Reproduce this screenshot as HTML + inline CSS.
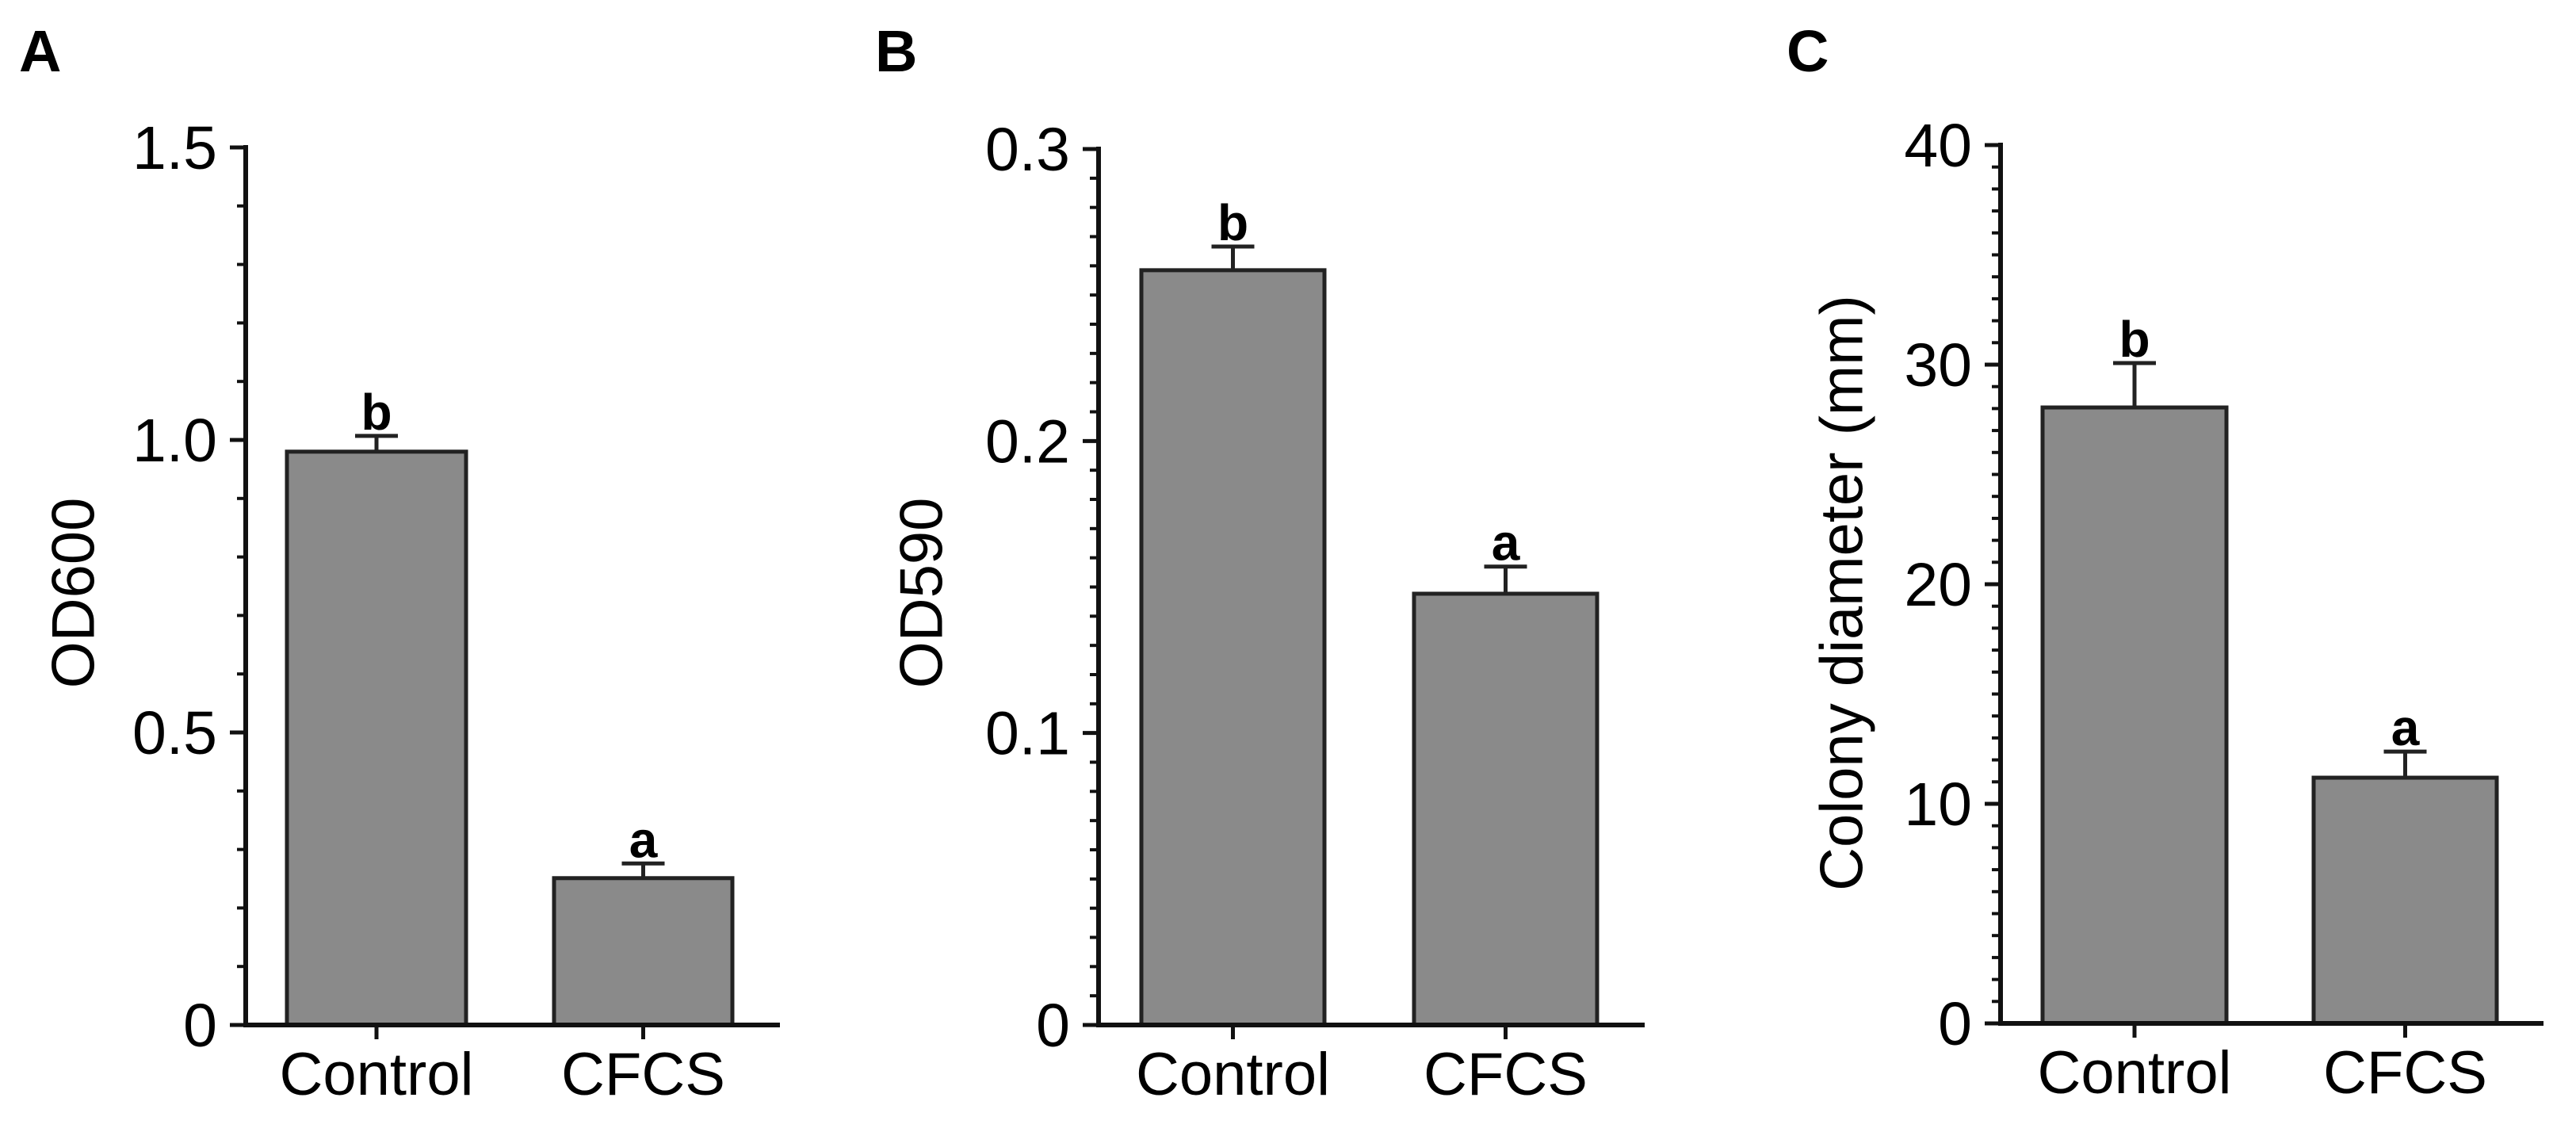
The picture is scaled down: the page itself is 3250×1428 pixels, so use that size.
<!DOCTYPE html>
<html><head><meta charset="utf-8"><style>
html,body{margin:0;padding:0;background:#fff;}
svg{display:block;font-family:"Liberation Sans",Arial,sans-serif;}
svg text{font-family:"Liberation Sans",Arial,sans-serif;}
</style></head><body>
<svg id="fig" width="3250" height="1428" viewBox="0 0 3250 1428"></svg>
<script>
const categories = ["Control","CFCS"];
const valuesA = [0.98, 0.251];
const errorsA = [0.027, 0.025];
const lettersA = ["b","a"];
const ticksA = [0, 0.5, 1.0, 1.5];
const tickLabelsA = ["0","0.5","1.0","1.5"];
const valuesB = [0.2585, 0.1477];
const errorsB = [0.0081, 0.0093];
const lettersB = ["b","a"];
const ticksB = [0, 0.1, 0.2, 0.3];
const tickLabelsB = ["0","0.1","0.2","0.3"];
const valuesC = [28.05, 11.19];
const errorsC = [2.02, 1.19];
const lettersC = ["b","a"];
const ticksC = [0, 10, 20, 30, 40];
const tickLabelsC = ["0","10","20","30","40"];

const NS="http://www.w3.org/2000/svg";
const svg=document.getElementById('fig');
function mk(tag,attrs,parent,text){
  const e=document.createElementNS(NS,tag);
  for(const k in attrs)e.setAttribute(k,attrs[k]);
  if(text!==undefined)e.textContent=text;
  (parent||svg).appendChild(e);return e;
}
const FF='"Liberation Sans", Arial, sans-serif';
const panels=[
 {id:"a",letter:"A",lx:24,ax:310,top:186,zero:1293,end:984,bars:[[362,588],[699,924]],max:1.5,minor:0.1,
  vals:valuesA,errs:errorsA,lets:lettersA,ticks:ticksA,tl:tickLabelsA,title:"OD600",tx:93},
 {id:"b",letter:"B",lx:1104,ax:1386,top:188,zero:1293,end:2075,bars:[[1440,1671],[1784,2015]],max:0.3,minor:0.01,
  vals:valuesB,errs:errorsB,lets:lettersB,ticks:ticksB,tl:tickLabelsB,title:"OD590",tx:1163},
 {id:"c",letter:"C",lx:2254,ax:2524,top:183,zero:1291,end:3209,bars:[[2577,2809],[2919,3150]],max:40,minor:1,
  vals:valuesC,errs:errorsC,lets:lettersC,ticks:ticksC,tl:tickLabelsC,title:"Colony diameter (mm)",tx:2324}
];
panels.forEach(p=>{
  const g=mk('g',{});
  
  
  const y=v=>p.zero-(v/p.max)*(p.zero-p.top);
  const pl=mk('text',{x:p.lx,y:90,'font-size':74,'font-weight':'bold','font-family':FF},g,p.letter);
  
  
  p.vals.forEach((v,i)=>{
    const [x0,x1]=p.bars[i];const cx=(x0+x1)/2;
    const r=mk('rect',{x:x0,y:y(v),width:x1-x0,height:p.zero-y(v),fill:'#8a8a8a',stroke:'#222','stroke-width':5},g);
    
    
    const eb=mk('path',{d:`M${cx},${y(v)} V${y(v+p.errs[i])} M${cx-27},${y(v+p.errs[i])} H${cx+27}`,stroke:'#222','stroke-width':5,fill:'none'},g);
    
    
    const lt=mk('text',{x:cx,y:y(v+p.errs[i])-8,'font-size':64,'font-weight':'bold','text-anchor':'middle','font-family':FF},g,p.lets[i]);
    
    
    const xt=mk('line',{x1:cx,x2:cx,y1:p.zero,y2:p.zero+18,stroke:'#111','stroke-width':5},g);
    
    
    const xl=mk('text',{x:cx,y:p.zero+88,'font-size':76,'text-anchor':'middle','font-family':FF},g,categories[i]);
    
    
  });
  const n=Math.round(p.max/p.minor);
  for(let k=1;k<n;k++){
    const v=k*p.minor;
    if(p.ticks.some(t=>Math.abs(t-v)<1e-9))continue;
    const m=mk('line',{x1:p.ax-11,x2:p.ax,y1:y(v),y2:y(v),stroke:'#111','stroke-width':4},g);
    
    
  }
  p.ticks.forEach((t,i)=>{
    const l=mk('line',{x1:p.ax-20,x2:p.ax,y1:y(t),y2:y(t),stroke:'#111','stroke-width':5},g);
    
    
    const tx=mk('text',{x:p.ax-36,y:y(t)+27,'font-size':77,'text-anchor':'end','font-family':FF},g,p.tl[i]);
    
    
  });
  const ya=mk('line',{x1:p.ax,x2:p.ax,y1:p.top-3,y2:p.zero+3,stroke:'#111','stroke-width':6},g);
  
  
  const xa=mk('line',{x1:p.ax-3,x2:p.end,y1:p.zero,y2:p.zero,stroke:'#111','stroke-width':6},g);
  
  
  const cy=748;
  const yt=mk('text',{x:p.tx,y:cy,'font-size':76,'text-anchor':'middle','dominant-baseline':'central','font-family':FF,transform:`rotate(-90 ${p.tx} ${cy})`},g,p.title);
  
  
});
</script>
</body></html>
